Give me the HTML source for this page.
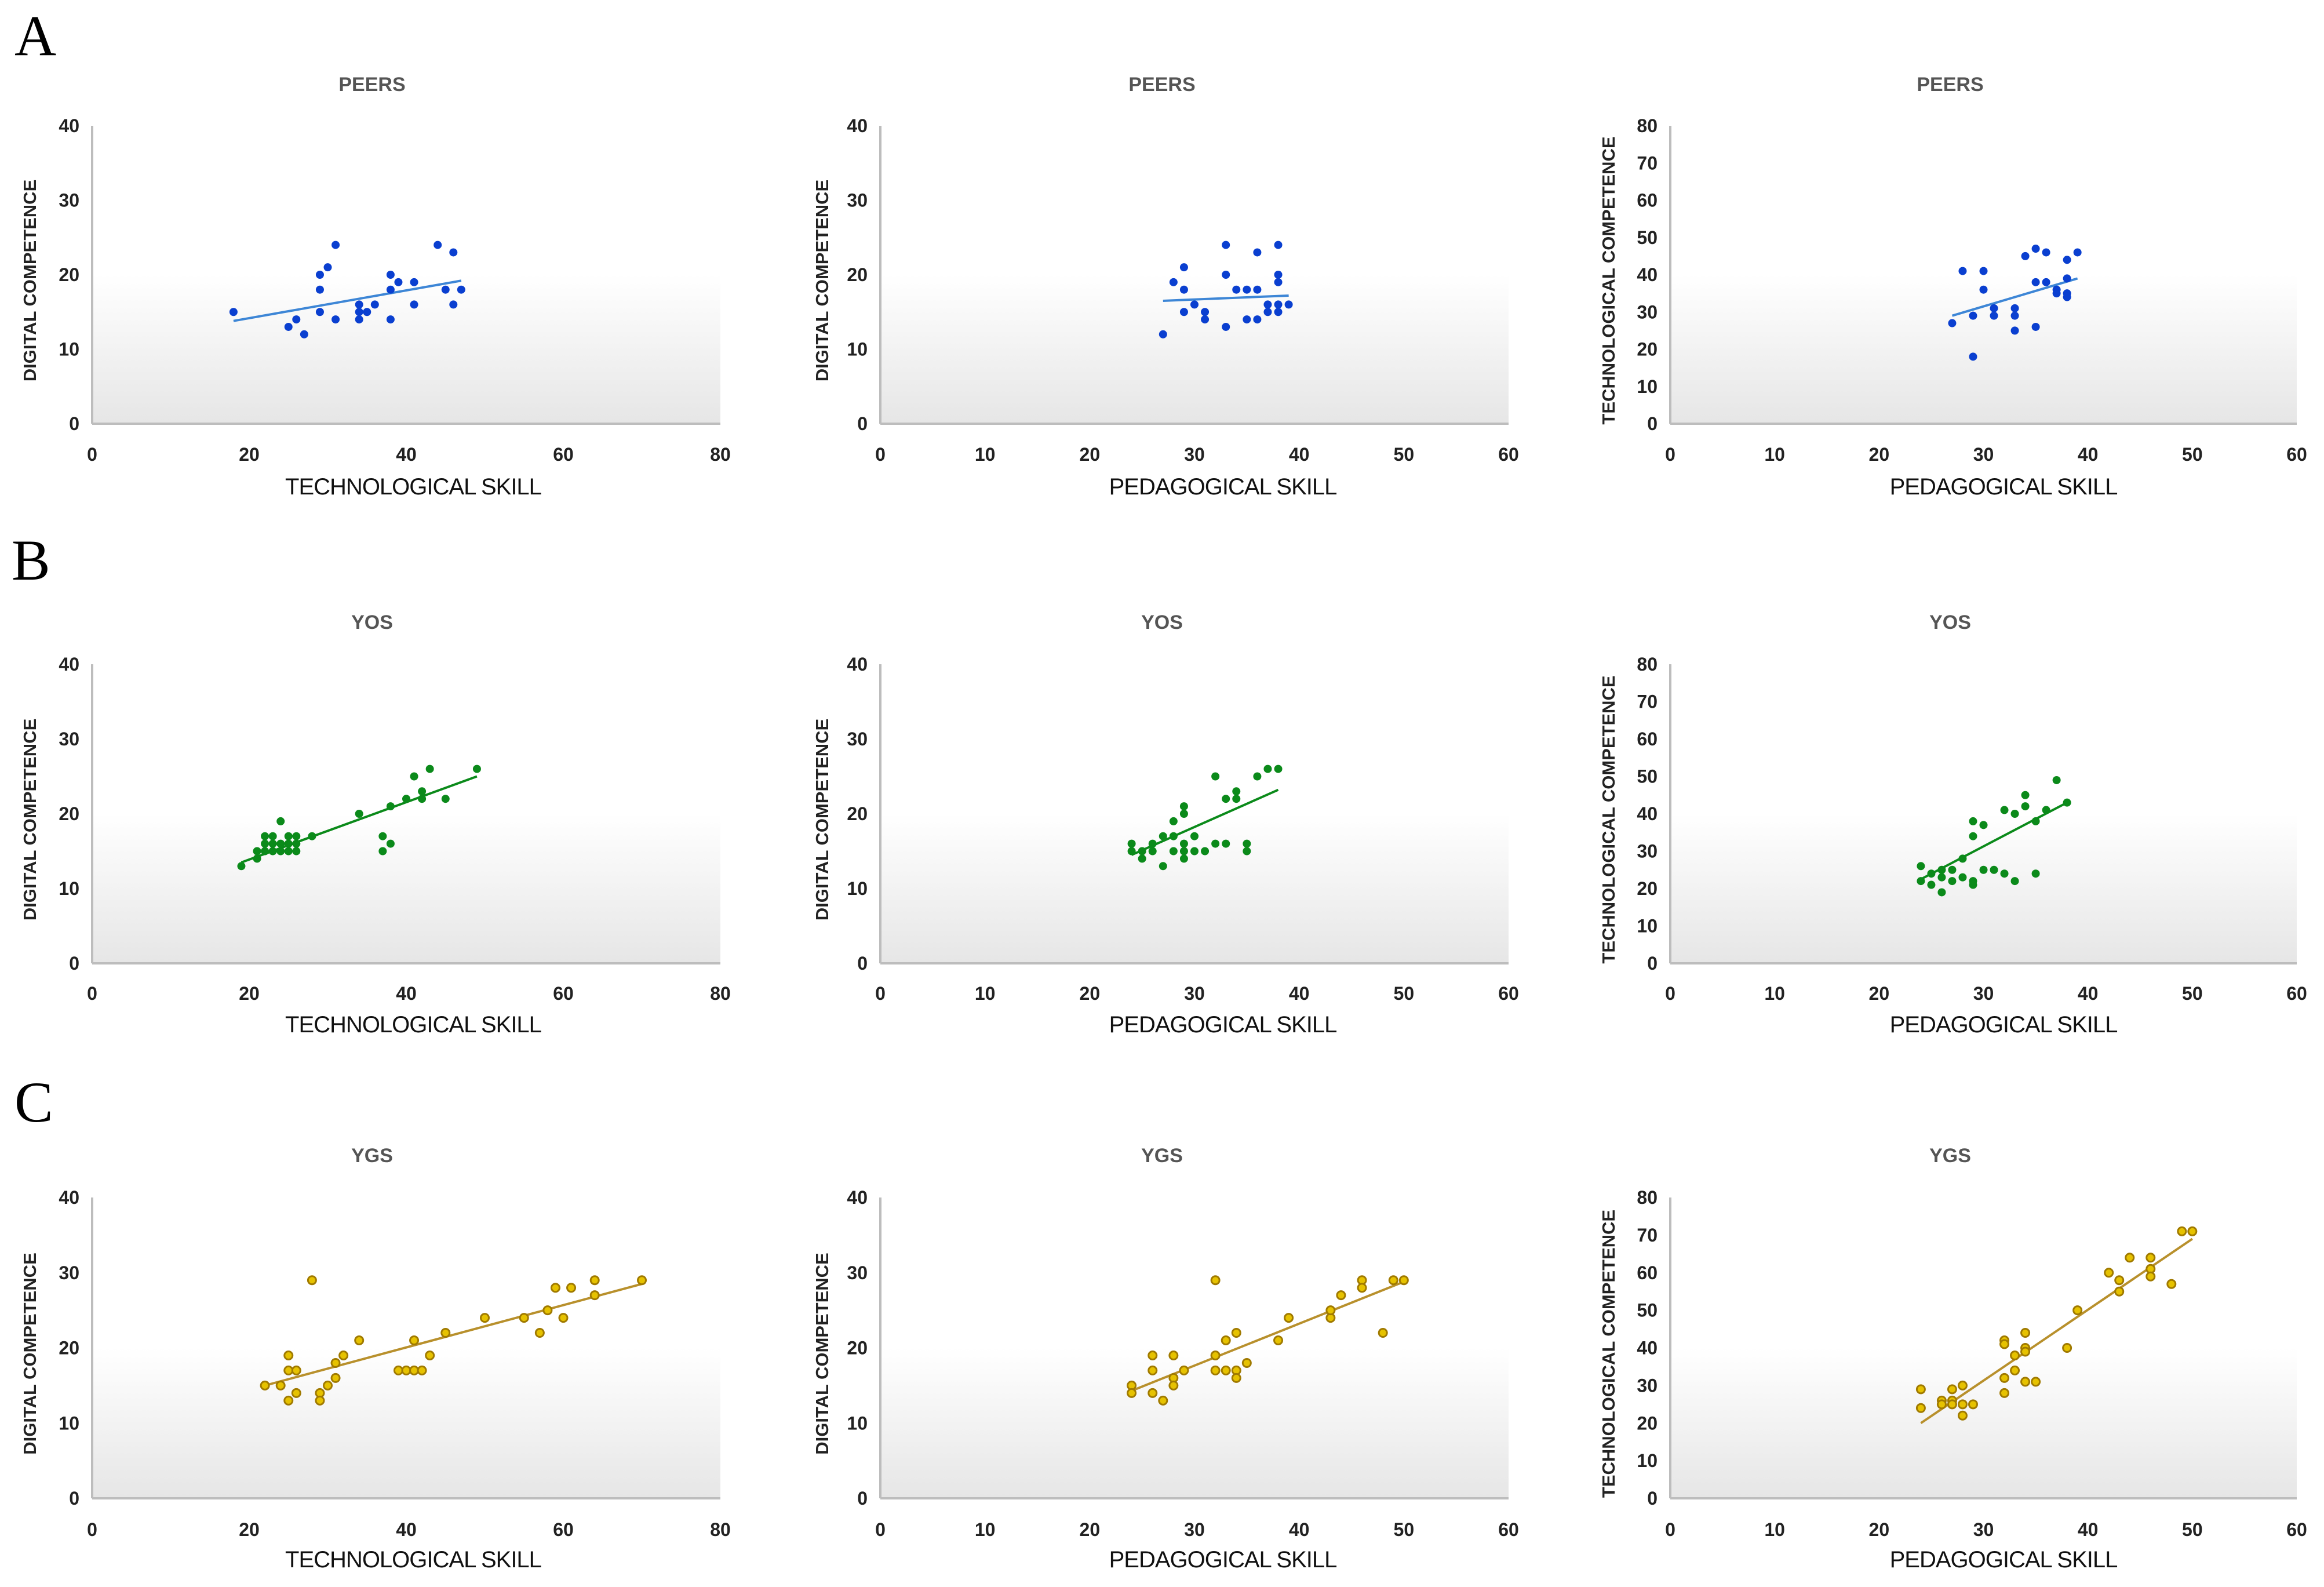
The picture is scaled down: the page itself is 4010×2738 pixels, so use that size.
<!DOCTYPE html>
<html><head><meta charset="utf-8">
<style>
html,body{margin:0;padding:0;background:#fff;}
svg{display:block;font-family:"Liberation Sans",sans-serif;}
</style></head>
<body>
<svg id="fig" width="4010" height="2738" viewBox="0 0 4010 2738" xmlns="http://www.w3.org/2000/svg">
<defs>
<linearGradient id="bg" x1="0" y1="0" x2="0" y2="1">
<stop offset="0" stop-color="#ffffff"/>
<stop offset="0.5" stop-color="#ffffff"/>
<stop offset="1" stop-color="#e6e6e6"/>
</linearGradient>
</defs>
<text x="25" y="95" font-family="Liberation Serif, serif" font-size="100">A</text>
<text x="20" y="1000" font-family="Liberation Serif, serif" font-size="100">B</text>
<text x="25" y="1935" font-family="Liberation Serif, serif" font-size="100">C</text>
<g id="charts"></g>
</svg>
<script>
// ---- data ----
const peersTechX=[18,25,26,27,29,29,29,30,31,31,34,34,34,35,36,38,38,38,39,41,41,44,45,46,46,47];
const peersTechY=[15,13,14,12,20,18,15,21,24,14,16,15,14,15,16,20,18,14,19,19,16,24,18,23,16,18];
const peersTechLine=[18,13.8,47,19.2];
const peersPedX=[27,28,29,29,29,30,31,31,33,33,33,34,35,35,36,36,36,37,37,38,38,38,38,38,39];
const peersPedY=[12,19,21,18,15,16,15,14,24,20,13,18,18,14,23,18,14,16,15,24,20,19,16,15,16];
const peersPedLine=[27,16.5,39,17.2];
const peersTcX=[27,28,29,29,30,30,31,31,33,33,33,34,35,35,35,36,36,37,37,38,38,38,38,39];
const peersTcY=[27,41,29,18,41,36,31,29,31,29,25,45,47,38,26,46,38,35,36,44,39,35,34,46];
const peersTcLine=[27,29,39,39];
const yosTechX=[19,21,21,22,22,22,23,23,23,24,24,24,25,25,25,26,26,26,28,34,37,37,38,38,40,41,42,42,43,45,49];
const yosTechY=[13,14,15,15,16,17,15,16,17,15,16,19,15,16,17,15,16,17,17,20,17,15,16,21,22,25,23,22,26,22,26];
const yosTechLine=[19,13.5,49,25];
const yosPedX=[24,24,25,25,26,26,27,27,28,28,28,29,29,29,29,29,30,30,31,32,32,33,33,34,34,35,35,36,37,38];
const yosPedY=[16,15,15,14,15,16,13,17,19,17,15,16,21,20,15,14,17,15,15,25,16,16,22,23,22,16,15,25,26,26];
const yosPedLine=[24,14.5,38,23.2];
const yosTcX=[24,24,25,25,26,26,26,27,27,28,28,29,29,29,29,30,30,31,32,32,33,33,34,34,35,35,36,37,38];
const yosTcY=[26,22,24,21,25,23,19,25,22,23,28,22,21,38,34,37,25,25,41,24,40,22,45,42,24,38,41,49,43];
const yosTcLine=[24,22.5,38,43];
const ygsTechX=[22,24,25,25,25,26,26,28,29,29,30,31,31,32,34,39,40,41,41,42,43,45,50,55,57,58,59,60,61,64,64,70];
const ygsTechY=[15,15,19,17,13,17,14,29,14,13,15,16,18,19,21,17,17,21,17,17,19,22,24,24,22,25,28,24,28,29,27,29];
const ygsTechLine=[22,15,70,28.5];
const ygsPedX=[24,24,26,26,26,27,28,28,28,29,32,32,32,33,33,34,34,34,35,38,39,43,43,44,46,46,48,49,50];
const ygsPedY=[15,14,19,17,14,13,19,16,15,17,29,19,17,21,17,22,17,16,18,21,24,24,25,27,29,28,22,29,29];
const ygsPedLine=[24,14.3,50,28.8];
const ygsTcX=[24,24,26,26,27,27,27,28,28,28,29,32,32,32,32,33,33,34,34,34,35,34,38,39,42,43,43,44,46,46,46,48,49,50];
const ygsTcY=[29,24,26,25,29,26,25,30,25,22,25,42,41,32,28,38,34,44,40,39,31,31,40,50,60,58,55,64,64,61,59,57,71,71];
const ygsTcLine=[24,20,50,69];
const xTicksTech=[0,20,40,60,80];
const xTicksPed=[0,10,20,30,40,50,60];
const yTicks40=[0,10,20,30,40];
const yTicks80=[0,10,20,30,40,50,60,70,80];

const NS="http://www.w3.org/2000/svg";
const root=document.getElementById('charts');
function mk(tag,attrs,parent){const e=document.createElementNS(NS,tag);for(const k in attrs)e.setAttribute(k,attrs[k]);parent.appendChild(e);return e;}

const colBlue={pt:"#0a3fd0",line:"#3d86d6",stroke:"none"};
const colGreen={pt:"#0b8a1a",line:"#0b8a1a",stroke:"none"};
const colGold={pt:"#e6c200",line:"#b8902c",stroke:"#a07a00"};

const rows=[{top:217,bot:731,title:157,tick:795,xlab:853},{top:1146,bot:1662,title:1085,tick:1725,xlab:1781},{top:2066,bot:2585,title:2005,tick:2650,xlab:2704}];
const cols=[{x0:159,x1:1243,ylab:51,tx:642,lx:713},{x0:1519,x1:2603,ylab:1418,tx:2005,lx:2110},{x0:2882,x1:3963,ylab:2775,tx:3365,lx:3457}];

const specs=[
 [0,0,"PEERS",peersTechX,peersTechY,peersTechLine,xTicksTech,yTicks40,"TECHNOLOGICAL SKILL","DIGITAL COMPETENCE",colBlue],
 [0,1,"PEERS",peersPedX,peersPedY,peersPedLine,xTicksPed,yTicks40,"PEDAGOGICAL SKILL","DIGITAL COMPETENCE",colBlue],
 [0,2,"PEERS",peersTcX,peersTcY,peersTcLine,xTicksPed,yTicks80,"PEDAGOGICAL SKILL","TECHNOLOGICAL COMPETENCE",colBlue],
 [1,0,"YOS",yosTechX,yosTechY,yosTechLine,xTicksTech,yTicks40,"TECHNOLOGICAL SKILL","DIGITAL COMPETENCE",colGreen],
 [1,1,"YOS",yosPedX,yosPedY,yosPedLine,xTicksPed,yTicks40,"PEDAGOGICAL SKILL","DIGITAL COMPETENCE",colGreen],
 [1,2,"YOS",yosTcX,yosTcY,yosTcLine,xTicksPed,yTicks80,"PEDAGOGICAL SKILL","TECHNOLOGICAL COMPETENCE",colGreen],
 [2,0,"YGS",ygsTechX,ygsTechY,ygsTechLine,xTicksTech,yTicks40,"TECHNOLOGICAL SKILL","DIGITAL COMPETENCE",colGold],
 [2,1,"YGS",ygsPedX,ygsPedY,ygsPedLine,xTicksPed,yTicks40,"PEDAGOGICAL SKILL","DIGITAL COMPETENCE",colGold],
 [2,2,"YGS",ygsTcX,ygsTcY,ygsTcLine,xTicksPed,yTicks80,"PEDAGOGICAL SKILL","TECHNOLOGICAL COMPETENCE",colGold]
];

specs.forEach(function(s,i){
 const r=rows[s[0]],c=cols[s[1]];
 const xt=s[6],yt=s[7];
 const xmax=xt[xt.length-1],ymax=yt[yt.length-1];
 const sx=v=>c.x0+(v/xmax)*(c.x1-c.x0);
 const sy=v=>r.bot-(v/ymax)*(r.bot-r.top);
 const g=mk('g',{},root);
 
 
 const bg=mk('rect',{x:c.x0,y:r.top,width:c.x1-c.x0,height:r.bot-r.top,fill:"url(#bg)"},g);
 
 
 const ax=mk('line',{x1:c.x0,y1:r.top,x2:c.x0,y2:r.bot,stroke:"#bdbdbd","stroke-width":4},g);
 
 
 const axx=mk('line',{x1:c.x0,y1:r.bot,x2:c.x1,y2:r.bot,stroke:"#bdbdbd","stroke-width":4},g);
 
 
 const t=mk('text',{x:c.tx,y:r.title,"text-anchor":"middle","font-size":34,"font-weight":"bold",fill:"#555"},g);
 t.textContent=s[2];
 
 
 xt.forEach(function(v){
  const e=mk('text',{x:sx(v),y:r.tick,"text-anchor":"middle","font-size":32,"font-weight":"bold",fill:"#222"},g);
  e.textContent=v;
  
  
 });
 yt.forEach(function(v){
  const e=mk('text',{x:c.x0-22,y:sy(v)+11,"text-anchor":"end","font-size":32,"font-weight":"bold",fill:"#222"},g);
  e.textContent=v;
  
  
 });
 const xl=mk('text',{x:c.lx,y:r.xlab,"text-anchor":"middle","font-size":40,fill:"#111","letter-spacing":"-1"},g);
 xl.textContent=s[8];
 
 
 const yc=(r.top+r.bot)/2+10;
 const yl=mk('text',{x:c.ylab,y:yc,"text-anchor":"middle","font-size":31,"font-weight":"bold",fill:"#222",transform:"rotate(-90 "+c.ylab+" "+yc+")",dy:"11"},g);
 yl.textContent=s[9];
 
 
 const L=s[5];
 const tl=mk('line',{x1:sx(L[0]),y1:sy(L[1]),x2:sx(L[2]),y2:sy(L[3]),stroke:s[10].line,"stroke-width":4},g);
 
 
 const X=s[3],Y=s[4];
 for(let k=0;k<X.length;k++){
  const p=mk('circle',{cx:sx(X[k]),cy:sy(Y[k]),r:7,fill:s[10].pt,stroke:s[10].stroke,"stroke-width":3},g);
  
  
 }
});
</script>
</body></html>
